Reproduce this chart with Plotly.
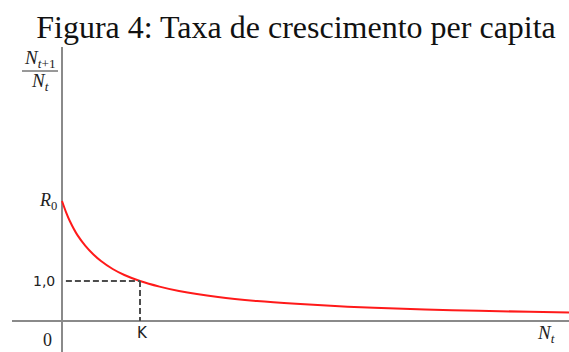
import plotly.graph_objects as go

# Data (N_t in units of K, ratio N_{t+1}/N_t)
n_t = [0, 0.05, 0.1, 0.2, 0.3, 0.4, 0.5, 0.65, 0.8, 1.0, 1.25, 1.5, 2.0, 2.5, 3.0, 3.5, 4.0, 5.0, 6.0, 6.5]
ratio = [3.0, 2.73, 2.5, 2.14, 1.88, 1.67, 1.5, 1.30, 1.15, 1.0, 0.86, 0.75, 0.60, 0.50, 0.43, 0.375, 0.33, 0.27, 0.23, 0.21]
R0 = 3.0
K = 1.0
eq_ratio = 1.0

W, H = 569, 352
ML, MR, MT, MB = 12, 0, 47, 0
PW, PH = W - ML - MR, H - MT - MB


def px(x):
    return (x - ML) / PW


def py(y):
    return (H - MB - y) / PH


fig = go.Figure()
fig.add_trace(go.Scatter(x=n_t, y=ratio, mode="lines", line=dict(color="#ff1a1a", width=2, shape="spline"),
                         hoverinfo="skip", showlegend=False))
# dashed guides at K
fig.add_trace(go.Scatter(x=[0.05, K], y=[eq_ratio, eq_ratio], mode="lines",
                         line=dict(color="#4d4d4d", width=2, dash="6px,3px"), showlegend=False, hoverinfo="skip"))
fig.add_trace(go.Scatter(x=[K, K], y=[eq_ratio, 0], mode="lines",
                         line=dict(color="#4d4d4d", width=2, dash="6px,3px"), showlegend=False, hoverinfo="skip"))

serif = "Liberation Serif"
sans = "DejaVu Sans"
ann = []
ann.append(dict(x=0, y=R0, xref="x", yref="y", text="<i>R</i><sub>0</sub>", showarrow=False,
                xanchor="right", yanchor="middle", xshift=-3, font=dict(family=serif, size=18, color="#222")))
ann.append(dict(x=0, y=eq_ratio, xref="x", yref="y", text="1,0", showarrow=False,
                xanchor="right", yanchor="middle", xshift=-5, font=dict(family=sans, size=14, color="#222")))
ann.append(dict(x=K, y=0, xref="x", yref="y", text="K", showarrow=False,
                xanchor="center", yanchor="top", xshift=2, yshift=-1, font=dict(family=sans, size=15, color="#222")))
ann.append(dict(x=px(47), y=py(340), xref="paper", yref="paper", text="0", showarrow=False,
                xanchor="center", yanchor="middle", font=dict(family=serif, size=18, color="#222")))
ann.append(dict(x=px(546), y=py(334), xref="paper", yref="paper", text="<i>N</i><sub><i>t</i></sub>", showarrow=False,
                xanchor="center", yanchor="middle", font=dict(family=serif, size=19, color="#222")))
ann.append(dict(x=px(40), y=py(59), xref="paper", yref="paper", text="<i>N</i><sub><i>t</i>+1</sub>", showarrow=False,
                xanchor="center", yanchor="middle", font=dict(family=serif, size=19, color="#222")))
ann.append(dict(x=px(40), y=py(82), xref="paper", yref="paper", text="<i>N</i><sub><i>t</i></sub>", showarrow=False,
                xanchor="center", yanchor="middle", font=dict(family=serif, size=19, color="#222")))

shapes = [dict(type="line", xref="paper", yref="paper", x0=px(22), x1=px(58), y0=py(71), y1=py(71),
               line=dict(color="#333", width=1))]

fig.update_layout(
    width=W, height=H,
    margin=dict(l=ML, r=MR, t=MT, b=MB),
    paper_bgcolor="white", plot_bgcolor="white",
    title=dict(text="Figura 4: Taxa de crescimento per capita", x=296 / W, xanchor="center",
               xref="container", yref="container", y=1 - 27 / H, yanchor="middle",
               font=dict(family=serif, size=32, color="#111")),
    xaxis=dict(range=[-(62 - ML) / 78, (W - 62) / 78], showgrid=False, showticklabels=False, ticks="",
               zeroline=True, zerolinecolor="#8a8a8a", zerolinewidth=2, fixedrange=True),
    yaxis=dict(range=[-(H - 321) / 40, (321 - MT) / 40], showgrid=False, showticklabels=False, ticks="",
               zeroline=True, zerolinecolor="#8a8a8a", zerolinewidth=2, fixedrange=True),
    annotations=ann,
    shapes=shapes,
    showlegend=False,
)

fig.write_html("out.html", config={"displayModeBar": False})
